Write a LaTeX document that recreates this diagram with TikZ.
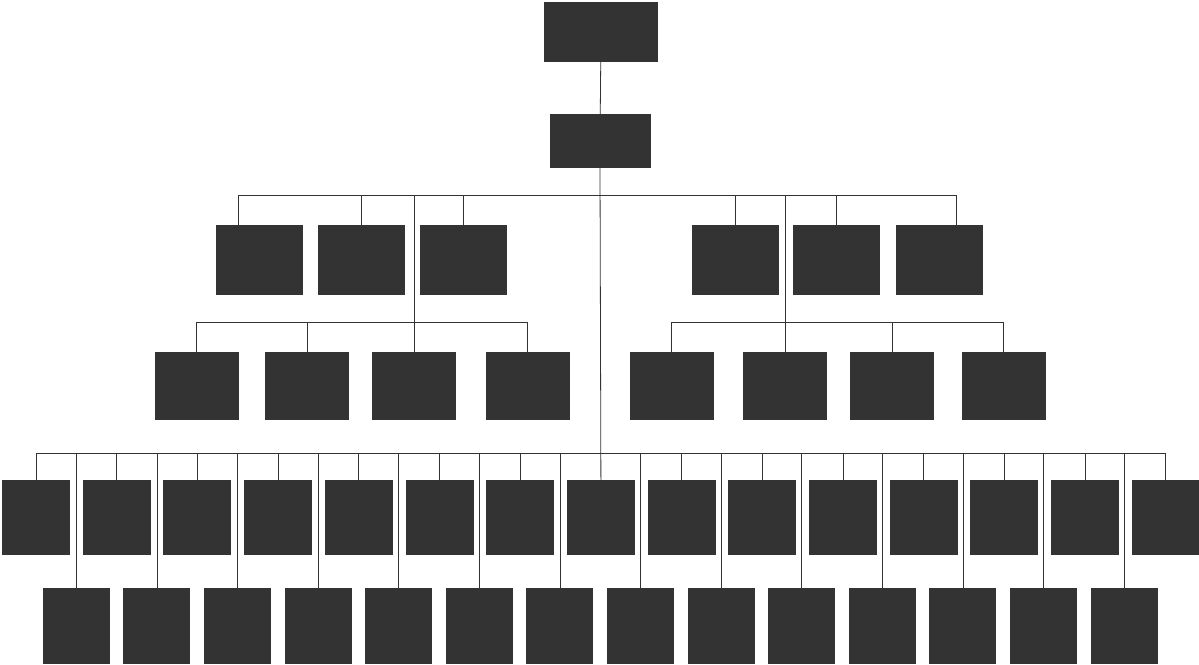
\documentclass[tikz,border=0pt]{standalone}
\begin{document}
\begin{tikzpicture}[x=1pt,y=-1pt,
  box/.style={rectangle, fill=black!80, draw=none, inner sep=0pt},
  conn/.style={draw=black!80, line width=0.8pt}]
\useasboundingbox (0,0) rectangle (1199,664);
% level 1 and 2
\node[box, minimum width=114pt, minimum height=60pt] (top) at (601,32) {};
\node[box, minimum width=101pt, minimum height=54pt] (gm) at (600,141) {};
% level 3
\foreach \n/\x in {a/259.5, b/361.5, c/463.5, d/735, e/836.5, f/939.5}
  \node[box, minimum width=87pt, minimum height=70pt] (t\n) at (\x,260) {};
% level 4
\foreach \n/\x in {a/196.5, b/307, c/414, d/527.5, e/671.5, f/785, g/892, h/1003.5}
  \node[box, minimum width=84pt, minimum height=68pt] (l\n) at (\x,386) {};
% level 5
\foreach \i in {0,...,14}
  \node[box, minimum width=68pt, minimum height=75pt] (r\i) at ({36+80.7*\i},517.5) {};
% level 6
\foreach \j in {0,...,13}
  \node[box, minimum width=67pt, minimum height=76pt] (s\j) at ({76.3+80.6*\j},626) {};
% connectors
\draw[conn] (top) -- (gm);
\draw[conn] (gm.south) -- (r7.north);
\coordinate (b3l) at (238,195);
\coordinate (b3r) at (956,195);
\draw[conn] (b3l) -- (b3r);
\draw[conn] (b3l) -- (b3l |- ta.north);
\draw[conn] (b3r) -- (b3r |- tf.north);
\foreach \n in {b,c,d,e}
  \draw[conn] (t\n.north) -- (t\n.north |- b3l);
% left branch
\coordinate (b4l) at (414,322);
\draw[conn] (lc.north |- b3l) -- (lc.north);
\draw[conn] (la.north |- b4l) -- (ld.north |- b4l);
\foreach \n in {a,b,d}
  \draw[conn] (l\n.north) -- (l\n.north |- b4l);
% right branch
\coordinate (b4r) at (785,322);
\draw[conn] (lf.north |- b3l) -- (lf.north);
\draw[conn] (le.north |- b4r) -- (lh.north |- b4r);
\foreach \n in {e,g,h}
  \draw[conn] (l\n.north) -- (l\n.north |- b4r);
% bottom bus
\coordinate (b5) at (600,453);
\draw[conn] (r0.north |- b5) -- (r14.north |- b5);
\foreach \i in {0,...,6,8,9,...,14}
  \draw[conn] (r\i.north) -- (r\i.north |- b5);
\foreach \j in {0,...,13}
  \draw[conn] (s\j.north) -- (s\j.north |- b5);
\end{tikzpicture}
\end{document}
